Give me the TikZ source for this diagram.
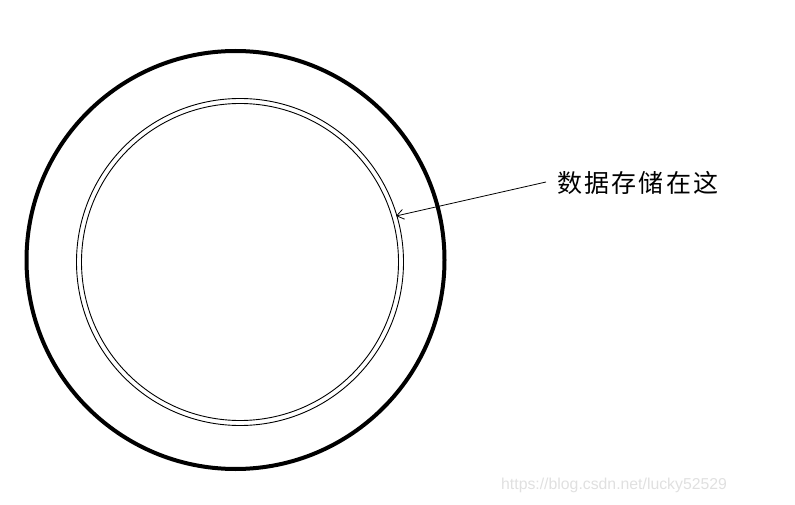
\documentclass[tikz,border=0pt]{standalone}
\usepackage{fontspec}
\setmainfont{Liberation Sans}
\newfontfamily\cjk[LetterSpace=9]{Noto Sans CJK SC}
\usetikzlibrary{arrows.meta}
\begin{document}
\begin{tikzpicture}[x=1pt,y=-1pt,
  thin ring/.style={draw=black,line width=0.9pt},
  thick ring/.style={draw=black,line width=4pt},
  label text/.style={font=\cjk\fontsize{25}{28}\selectfont,inner sep=0pt,anchor=west},
  pointer/.style={draw=black,line width=0.8pt,-{Straight Barb[length=7pt,width=10pt,line width=0.8pt]}}]
\useasboundingbox (0,0) rectangle (795,505);
\draw[thick ring] (235.5,260) circle (209);
\draw[thin ring] (240,262) circle (163.5);
\draw[thin ring] (240,262) circle (158.5);
\node[label text] (lbl) at (557,183) {数据存储在这};
\coordinate (tip) at (396,216);
\coordinate (tail) at (546,182);
\draw[pointer] (tail) -- (tip);
\node[font=\fontsize{15.8}{18}\selectfont,text=black!12,inner sep=0pt,anchor=west] (wm) at (501,485) {https://blog.csdn.net/lucky52529};
\end{tikzpicture}
\end{document}
